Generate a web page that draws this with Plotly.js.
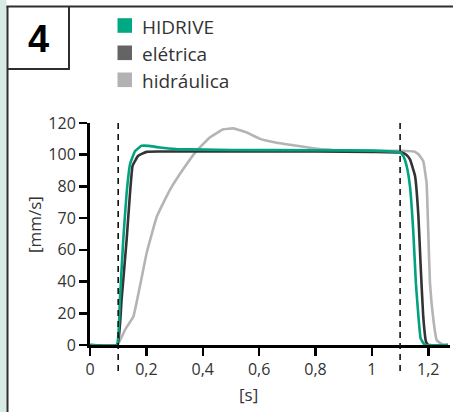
<!DOCTYPE html>
<html>
<head>
<meta charset="utf-8">
<script src="https://cdn.plot.ly/plotly-3.0.1.min.js"></script>
<style>
  html, body { margin: 0; padding: 0; background: #ffffff; }
  #chart { width: 453px; height: 412px; }
</style>
</head>
<body>
<div id="chart"></div>
<script>
// ---- data (y in axis units of the evenly spaced tick grid) ----
const seriesNames = ['HIDRIVE', 'elétrica', 'hidráulica'];

const tHidrive = [0, 0.095, 0.106, 0.118, 0.130, 0.142, 0.160, 0.183, 0.207, 0.248, 0.307, 0.5, 0.8, 1.0, 1.100, 1.112, 1.123, 1.135, 1.147, 1.156, 1.165, 1.173, 1.188, 1.27];
const vHidrive = [0, 0, 28.5, 66.5, 96, 114, 122.4, 125.6, 125.6, 124.5, 123.5, 123, 122.8, 122.6, 121.5, 119, 113, 100, 70.7, 39, 18, 4, 0, 0];

const tEletrica = [0, 0.097, 0.112, 0.130, 0.142, 0.151, 0.171, 0.201, 0.25, 0.5, 0.8, 1.0, 1.106, 1.122, 1.135, 1.153, 1.165, 1.173, 1.182, 1.192, 1.200, 1.27];
const vEletrica = [0, 0, 28.5, 66.5, 96, 113, 119.3, 121.8, 122, 122, 122, 121.8, 121.4, 120, 117, 106.6, 81, 49.6, 18, 2, 0, 0];

const tHidraulica = [0, 0.097, 0.124, 0.154, 0.177, 0.201, 0.237, 0.284, 0.331, 0.378, 0.426, 0.473, 0.508, 0.556, 0.603, 0.662, 0.721, 0.792, 0.863, 1.0, 1.1, 1.150, 1.165, 1.182, 1.194, 1.200, 1.206, 1.218, 1.230, 1.253, 1.27];
const vHidraulica = [0, 0, 9.5, 18, 37, 58, 81, 98, 111, 122.4, 131, 136, 136.6, 134, 130, 127.6, 126, 124, 123, 122.5, 122.5, 122, 120.3, 116, 102, 70.7, 39, 16, 3, 0, 0];

const markerTimes = [0.1, 1.1];

const xTickVals = [0, 0.2, 0.4, 0.6, 0.8, 1, 1.2];
const xTickText = ['0', '0,2', '0,4', '0,6', '0,8', '1', '1,2'];
const yTickVals = [0, 20, 40, 60, 80, 100, 120, 140];
const yTickText = ['0', '20', '40', '60', '70', '80', '100', '120'];

// ---- styles ----
const lineColors = ['#00a27f', '#333333', '#b4b4b4'];
const legendColors = ['#00a883', '#646464', '#b2b2b2'];
const FONT = '"Open Sans", "Noto Sans", sans-serif';
const TXT = '#333333';

// plot area pixel geometry
const W = 453, H = 412, L = 90, R = 3, T = 123, B = 67;
const pw = W - L - R, ph = H - T - B;
const px = x => (x - L) / pw;          // pixel -> paper x
const py = y => (H - B - y) / ph;      // pixel -> paper y

const lineStyle = c => ({color: c, width: 2.6, shape: 'spline', smoothing: 0.3});
const traces = [
  {x: tHidraulica, y: vHidraulica, name: seriesNames[2], mode: 'lines', line: lineStyle(lineColors[2])},
  {x: tEletrica, y: vEletrica, name: seriesNames[1], mode: 'lines', line: lineStyle(lineColors[1])},
  {x: tHidrive, y: vHidrive, name: seriesNames[0], mode: 'lines', line: lineStyle(lineColors[0])}
];

const shapes = [];
const annotations = [];

// left light-green strip
shapes.push({type: 'rect', xref: 'paper', yref: 'paper', x0: px(0), x1: px(6.5), y0: py(H), y1: py(0),
  fillcolor: '#d6ebe2', line: {width: 0}, layer: 'below'});
// frame lines
const frame = {color: '#2e2e2e', width: 2};
shapes.push({type: 'line', xref: 'paper', yref: 'paper', x0: px(7.5), x1: px(7.5), y0: py(6), y1: py(H), line: frame});
shapes.push({type: 'line', xref: 'paper', yref: 'paper', x0: px(6.5), x1: px(W), y0: py(6.5), y1: py(6.5), line: frame});
shapes.push({type: 'line', xref: 'paper', yref: 'paper', x0: px(69), x1: px(69), y0: py(6), y1: py(69), line: frame});
shapes.push({type: 'line', xref: 'paper', yref: 'paper', x0: px(7), x1: px(70), y0: py(69), y1: py(69), line: frame});

annotations.push({xref: 'paper', yref: 'paper', x: px(38.5), y: py(39), text: '<b>4</b>', showarrow: false,
  xanchor: 'center', yanchor: 'middle', font: {family: '"Liberation Sans", Arial, sans-serif', size: 38, color: '#000'}});

// dashed marker lines
markerTimes.forEach(t => shapes.push({type: 'line', xref: 'x', yref: 'paper', x0: t, x1: t,
  y0: py(371), y1: py(121), line: {color: '#111', width: 1.6, dash: '6px,5px'}}));

// legend (squares + labels)
const legendRowY = [25.5, 52.8, 79.8];
seriesNames.forEach((n, i) => {
  shapes.push({type: 'rect', xref: 'paper', yref: 'paper', x0: px(117.5), x1: px(132), y0: py(legendRowY[i] + 7.3), y1: py(legendRowY[i] - 7.3),
    fillcolor: legendColors[i], line: {width: 0}});
  annotations.push({xref: 'paper', yref: 'paper', x: px(139.5), y: py(legendRowY[i] + 1), text: n, showarrow: false,
    xanchor: 'left', yanchor: 'middle', font: {family: FONT, size: 19, color: TXT}});
});

// axis titles
annotations.push({xref: 'paper', yref: 'paper', x: px(34), y: py(225), text: '[mm/s]', textangle: -90, showarrow: false,
  xanchor: 'center', yanchor: 'middle', font: {family: FONT, size: 17, color: TXT}});
annotations.push({xref: 'paper', yref: 'paper', x: px(248), y: py(394), text: '[s]', showarrow: false,
  xanchor: 'center', yanchor: 'middle', font: {family: FONT, size: 17, color: TXT}});

const layout = {
  width: W, height: H,
  margin: {l: L, r: R, t: T, b: B, pad: 0},
  paper_bgcolor: '#ffffff', plot_bgcolor: '#ffffff',
  showlegend: false,
  font: {family: FONT, size: 16, color: TXT},
  xaxis: {
    range: [0, 1.277], showgrid: false, zeroline: false,
    showline: true, linecolor: '#000', linewidth: 3,
    ticks: 'outside', ticklen: 8, tickwidth: 2.5, tickcolor: '#000',
    tickmode: 'array', tickvals: xTickVals, ticktext: xTickText,
    tickfont: {family: FONT, size: 16, color: TXT}, fixedrange: true
  },
  yaxis: {
    range: [0, 140], showgrid: false, zeroline: false,
    showline: true, linecolor: '#000', linewidth: 3,
    ticks: 'outside', ticklen: 8, tickwidth: 2.5, tickcolor: '#000',
    tickmode: 'array', tickvals: yTickVals, ticktext: yTickText,
    tickfont: {family: FONT, size: 16, color: TXT}, fixedrange: true
  },
  shapes: shapes,
  annotations: annotations
};

Plotly.newPlot('chart', traces, layout, {displayModeBar: false, staticPlot: true});
</script>
</body>
</html>
